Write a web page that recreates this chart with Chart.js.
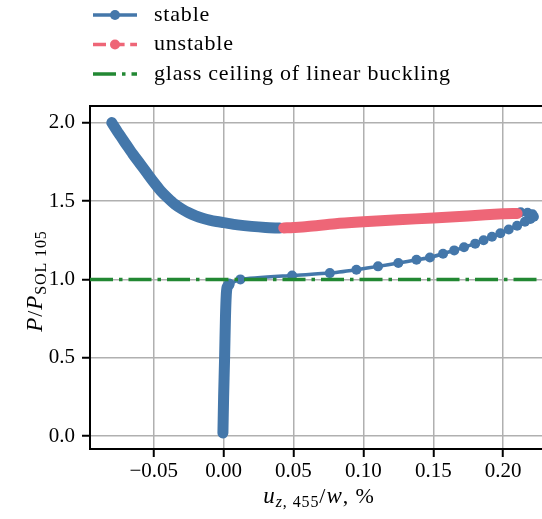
<!DOCTYPE html>
<html>
<head>
<meta charset="utf-8">
<script src="https://cdn.jsdelivr.net/npm/chart.js@4.4.1/dist/chart.umd.min.js"></script>
<style>
  html, body { margin: 0; padding: 0; background: #fff; }
</style>
</head>
<body>
<canvas id="myChart" width="542" height="519"></canvas>
<script>
// tick values and labels
const xTicks = [-0.05, 0.00, 0.05, 0.10, 0.15, 0.20];
const xTickLabels = ['−0.05', '0.00', '0.05', '0.10', '0.15', '0.20'];
const yTicks = [0.0, 0.5, 1.0, 1.5, 2.0];
const yTickLabels = ['0.0', '0.5', '1.0', '1.5', '2.0'];

// stable, first branch: dense part near u = 0 (markers merge into a band)
const stableLowX = [-0.0005, 0.0, 0.0007, 0.0013, 0.0019, 0.0025, 0.004];
const stableLowY = [0.02, 0.25, 0.5, 0.75, 0.9, 0.95, 0.97];
// stable, first branch: separate markers up to the limit point
const stableX = [0.004, 0.012, 0.049, 0.076, 0.095, 0.1105, 0.125, 0.138, 0.1476, 0.157, 0.165, 0.172,
                 0.18, 0.186, 0.192, 0.198, 0.204, 0.21, 0.2156, 0.2195, 0.222, 0.221, 0.2175, 0.2125];
const stableY = [0.97, 1.0, 1.025, 1.04, 1.062, 1.083, 1.104, 1.125, 1.14, 1.164, 1.185, 1.205,
                 1.228, 1.25, 1.272, 1.294, 1.318, 1.342, 1.368, 1.385, 1.40, 1.415, 1.425, 1.428];
// unstable branch
const unstableX = [0.21, 0.2, 0.175, 0.15, 0.125, 0.1, 0.08, 0.06, 0.05, 0.043];
const unstableY = [1.42, 1.418, 1.405, 1.392, 1.38, 1.367, 1.355, 1.337, 1.331, 1.328];
// stable, second branch
const stableUpX = [0.04, 0.03, 0.02, 0.01, 0.0, -0.005, -0.01, -0.015, -0.02, -0.025, -0.03, -0.035,
                   -0.04, -0.045, -0.05, -0.055, -0.06, -0.065, -0.07, -0.075, -0.08];
const stableUpY = [1.327, 1.331, 1.338, 1.348, 1.362, 1.369, 1.378, 1.39, 1.405, 1.425, 1.45, 1.48,
                   1.52, 1.565, 1.62, 1.68, 1.74, 1.80, 1.865, 1.93, 2.0];
// linear buckling load
const ceilingLevel = 1.0;

const xMin = -0.0956, xMax = 0.2278;
const yMin = -0.082, yMax = 2.106;

const BLUE = '#4477AA', RED = '#EE6677', GREEN = '#228833';
const SERIF = '"Liberation Serif", "DejaVu Serif", serif';

function pts(xs, ys) {
  return xs.map((x, i) => ({ x: x, y: ys[i] }));
}

const legendItems = [
  { label: 'stable', color: BLUE, dash: [], marker: true },
  { label: 'unstable', color: RED, dash: [13, 5.6], marker: true },
  { label: 'glass ceiling of linear buckling', color: GREEN, dash: [23, 6, 3.5, 6], marker: false }
];

// legend above the axes + top frame line + axis titles with subscripts
const decorations = {
  id: 'decorations',
  afterDraw(chart) {
    const ctx = chart.ctx;
    const area = chart.chartArea;
    ctx.save();
    // top spine
    ctx.strokeStyle = '#000';
    ctx.lineWidth = 2;
    ctx.beginPath();
    ctx.moveTo(area.left - 1, area.top);
    ctx.lineTo(area.right, area.top);
    ctx.stroke();

    // legend
    legendItems.forEach((it, i) => {
      const y = 15 + i * 29.5;
      ctx.strokeStyle = it.color;
      ctx.lineWidth = 3.5;
      ctx.setLineDash(it.dash);
      ctx.beginPath();
      ctx.moveTo(93, y);
      ctx.lineTo(137, y);
      ctx.stroke();
      ctx.setLineDash([]);
      if (it.marker) {
        ctx.fillStyle = it.color;
        ctx.beginPath();
        ctx.arc(115, y, 5, 0, Math.PI * 2);
        ctx.fill();
      }
      ctx.fillStyle = '#000';
      ctx.font = '22px ' + SERIF;
      ctx.letterSpacing = '0.8px';
      ctx.textBaseline = 'middle';
      ctx.textAlign = 'left';
      ctx.fillText(it.label, 154, y);
      ctx.letterSpacing = '0px';
    });

    // axis titles
    const drawRuns = (runs, cx, baseY) => {
      let w = 0;
      runs.forEach(r => { ctx.font = r.f; w += ctx.measureText(r.t).width; });
      let x = cx - w / 2;
      ctx.textBaseline = 'alphabetic';
      ctx.textAlign = 'left';
      runs.forEach(r => {
        ctx.font = r.f;
        ctx.fillText(r.t, x, baseY + (r.dy || 0));
        x += ctx.measureText(r.t).width;
      });
    };
    const it22 = 'italic 23px ' + SERIF, rm22 = '22px ' + SERIF;
    const it16 = 'italic 16px ' + SERIF, rm16 = '16px ' + SERIF;
    ctx.fillStyle = '#000';
    ctx.letterSpacing = '0.9px';
    drawRuns([
      { t: 'u', f: it22 },
      { t: 'z', f: it16, dy: 4 },
      { t: ', 455', f: rm16, dy: 4 },
      { t: '/', f: rm22 },
      { t: 'w', f: it22 },
      { t: ', %', f: rm22 }
    ], 319, 503);

    ctx.translate(42, 281);
    ctx.rotate(-Math.PI / 2);
    drawRuns([
      { t: 'P', f: it22 },
      { t: '/', f: rm22 },
      { t: 'P', f: it22 },
      { t: 'SOL 105', f: rm16, dy: 4 }
    ], 0, 0);
    ctx.restore();
  }
};

const ctx = document.getElementById('myChart').getContext('2d');
new Chart(ctx, {
  type: 'scatter',
  data: {
    datasets: [
      {
        label: 'glass ceiling of linear buckling',
        data: [{ x: xMin, y: ceilingLevel }, { x: xMax, y: ceilingLevel }],
        showLine: true,
        borderColor: GREEN,
        borderWidth: 3.5,
        borderDash: [23, 6, 3.5, 6],
        pointRadius: 0,
        order: 0
      },
      {
        label: 'unstable',
        data: pts(unstableX, unstableY),
        showLine: true,
        borderColor: RED,
        borderWidth: 11,
        borderCapStyle: 'round',
        borderJoinStyle: 'round',
        tension: 0.3,
        pointRadius: 0,
        order: 1
      },
      {
        label: 'stable',
        data: pts(stableX, stableY),
        showLine: true,
        borderColor: BLUE,
        borderWidth: 3.5,
        tension: 0.2,
        pointRadius: 5,
        pointBackgroundColor: BLUE,
        pointBorderWidth: 0,
        order: 2
      },
      {
        label: 'stable (near zero)',
        data: pts(stableLowX, stableLowY),
        showLine: true,
        borderColor: BLUE,
        borderWidth: 11,
        borderCapStyle: 'round',
        borderJoinStyle: 'round',
        tension: 0.2,
        pointRadius: 0,
        order: 3
      },
      {
        label: 'stable (second)',
        data: pts(stableUpX, stableUpY),
        showLine: true,
        borderColor: BLUE,
        borderWidth: 11,
        borderCapStyle: 'round',
        borderJoinStyle: 'round',
        tension: 0.3,
        pointRadius: 0,
        order: 4
      }
    ]
  },
  options: {
    responsive: false,
    animation: false,
    devicePixelRatio: 1,
    layout: { autoPadding: false, padding: { top: 106, left: 0, right: 0, bottom: 0 } },
    plugins: {
      legend: { display: false },
      tooltip: { enabled: false }
    },
    scales: {
      x: {
        type: 'linear',
        min: xMin,
        max: xMax,
        afterBuildTicks: (scale) => { scale.ticks = xTicks.map(v => ({ value: v })); },
        afterFit: (scale) => { scale.height = 70; scale.paddingLeft = 0; scale.paddingRight = 0; },
        ticks: {
          callback: (v, i) => xTickLabels[i],
          font: { family: SERIF, size: 21 },
          color: '#000',
          padding: 2,
          maxRotation: 0,
          autoSkip: false
        },
        grid: { color: '#b0b0b0', lineWidth: 1.5, tickColor: '#000', tickLength: 8, tickWidth: 2 },
        border: { color: '#000', width: 2 }
      },
      y: {
        type: 'linear',
        min: yMin,
        max: yMax,
        afterBuildTicks: (scale) => { scale.ticks = yTicks.map(v => ({ value: v })); },
        afterFit: (scale) => { scale.width = 90; },
        ticks: {
          callback: (v, i) => yTickLabels[i],
          font: { family: SERIF, size: 21 },
          color: '#000',
          padding: 7,
          autoSkip: false
        },
        grid: { color: '#b0b0b0', lineWidth: 1.5, tickColor: '#000', tickLength: 8, tickWidth: 2 },
        border: { color: '#000', width: 2 }
      }
    }
  },
  plugins: [decorations]
});
</script>
</body>
</html>
